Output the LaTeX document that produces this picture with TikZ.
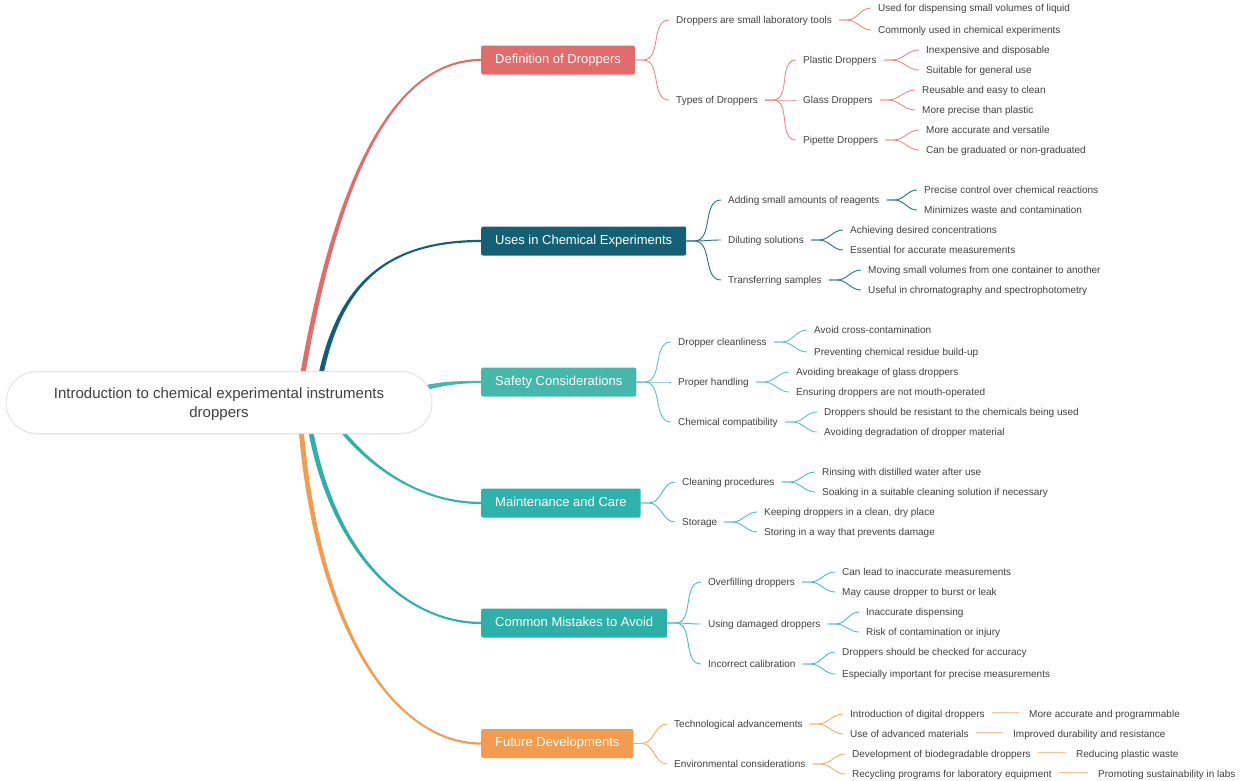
\documentclass[tikz,border=0pt]{standalone}
\usepackage{fontspec}
\setmainfont{Liberation Sans}
\usepackage{tikz}
\usetikzlibrary{calc,backgrounds,shadows}
\definecolor{cdef}{HTML}{E06C6C}
\definecolor{cuse}{HTML}{135F73}
\definecolor{csaf}{HTML}{45B8AB}
\definecolor{cmnt}{HTML}{2EB3AC}
\definecolor{cmis}{HTML}{2EB0A9}
\definecolor{cfut}{HTML}{F29C50}
\definecolor{ltext}{HTML}{404040}
\tikzset
{
    rootnode/.style = {draw=black!10, line width=1pt, fill=white, rounded corners=31pt, minimum width=426pt, minimum height=62pt, align=center, text=black!75, text depth=0pt, font=\fontsize{15}{19}\selectfont, drop shadow={opacity=0.08, shadow xshift=0pt, shadow yshift=-1pt}},
    mainnode/.style = {anchor=west, rounded corners=2pt, minimum height=29pt, inner xsep=14pt, text height=10pt, text depth=3.2pt, text=white, font=\fontsize{13}{15}\selectfont},
    leafnode/.style = {anchor=west, inner xsep=7pt, inner ysep=2pt, text height=8pt, text depth=0.5pt, text=ltext, font=\fontsize{10}{12}\selectfont},
    twig/.style     = {line width=0.9pt}
}
% tapered branch from the root to a main node
\newcommand{\limb}[6]{%
  \fill[#1] ($#2-#6$) .. controls ($#3-#6$) and ($#4+(0,-1.1)$) .. ($(#5.west)+(0,-1.1)$)
    -- ($(#5.west)+(0,1.1)$) .. controls ($#4+(0,1.1)$) and ($#3+#6$) .. ($#2+#6$) -- cycle;}

\begin{document}
\begin{tikzpicture}[x=1pt, y=-1pt]
    \useasboundingbox (0,0) rectangle (1240,780);

    \node [rootnode] (root) at (219,402.5) {Introduction to chemical experimental instruments\\droppers};

    % main topics
    \node [mainnode, fill=cdef] (def) at (481,60)    {Definition of Droppers};
    \node [mainnode, fill=cuse] (use) at (481,241)   {Uses in Chemical Experiments};
    \node [mainnode, fill=csaf] (saf) at (481,382)   {Safety Considerations};
    \node [mainnode, fill=cmnt] (mnt) at (481,503)   {Maintenance and Care};
    \node [mainnode, fill=cmis] (mis) at (481,623)   {Common Mistakes to Avoid};
    \node [mainnode, fill=cfut] (fut) at (481,743.5) {Future Developments};

    % definition
    \node [leafnode] (d1)   at (669,20)  {Droppers are small laboratory tools};
    \node [leafnode] (d2)   at (669,100) {Types of Droppers};
    \node [leafnode] (d11)  at (871,8)   {Used for dispensing small volumes of liquid};
    \node [leafnode] (d12)  at (871,30)  {Commonly used in chemical experiments};
    \node [leafnode] (d21)  at (796,60)  {Plastic Droppers};
    \node [leafnode] (d22)  at (796,100) {Glass Droppers};
    \node [leafnode] (d23)  at (796,140) {Pipette Droppers};
    \node [leafnode] (d211) at (919,50)  {Inexpensive and disposable};
    \node [leafnode] (d212) at (919,70)  {Suitable for general use};
    \node [leafnode] (d221) at (915,90)  {Reusable and easy to clean};
    \node [leafnode] (d222) at (915,110) {More precise than plastic};
    \node [leafnode] (d231) at (919,130) {More accurate and versatile};
    \node [leafnode] (d232) at (919,150) {Can be graduated or non-graduated};

    % uses
    \node [leafnode] (u1)  at (721,200) {Adding small amounts of reagents};
    \node [leafnode] (u2)  at (721,240) {Diluting solutions};
    \node [leafnode] (u3)  at (721,280) {Transferring samples};
    \node [leafnode] (u11) at (917,190) {Precise control over chemical reactions};
    \node [leafnode] (u12) at (917,210) {Minimizes waste and contamination};
    \node [leafnode] (u21) at (843,230) {Achieving desired concentrations};
    \node [leafnode] (u22) at (843,250) {Essential for accurate measurements};
    \node [leafnode] (u31) at (861,270) {Moving small volumes from one container to another};
    \node [leafnode] (u32) at (861,290) {Useful in chromatography and spectrophotometry};

    % safety
    \node [leafnode] (s1)  at (671,342) {Dropper cleanliness};
    \node [leafnode] (s2)  at (671,382) {Proper handling};
    \node [leafnode] (s3)  at (671,422) {Chemical compatibility};
    \node [leafnode] (s11) at (807,330) {Avoid cross-contamination};
    \node [leafnode] (s12) at (807,352) {Preventing chemical residue build-up};
    \node [leafnode] (s21) at (789,372) {Avoiding breakage of glass droppers};
    \node [leafnode] (s22) at (789,392) {Ensuring droppers are not mouth-operated};
    \node [leafnode] (s31) at (817,412) {Droppers should be resistant to the chemicals being used};
    \node [leafnode] (s32) at (817,432) {Avoiding degradation of dropper material};

    % maintenance
    \node [leafnode] (m1)  at (675,482) {Cleaning procedures};
    \node [leafnode] (m2)  at (675,522) {Storage};
    \node [leafnode] (m11) at (815,472) {Rinsing with distilled water after use};
    \node [leafnode] (m12) at (815,492) {Soaking in a suitable cleaning solution if necessary};
    \node [leafnode] (m21) at (757,512) {Keeping droppers in a clean, dry place};
    \node [leafnode] (m22) at (757,532) {Storing in a way that prevents damage};

    % mistakes
    \node [leafnode] (c1)  at (701,582) {Overfilling droppers};
    \node [leafnode] (c2)  at (701,624) {Using damaged droppers};
    \node [leafnode] (c3)  at (701,664) {Incorrect calibration};
    \node [leafnode] (c11) at (835,572) {Can lead to inaccurate measurements};
    \node [leafnode] (c12) at (835,592) {May cause dropper to burst or leak};
    \node [leafnode] (c21) at (859,612) {Inaccurate dispensing};
    \node [leafnode] (c22) at (859,632) {Risk of contamination or injury};
    \node [leafnode] (c31) at (835,652) {Droppers should be checked for accuracy};
    \node [leafnode] (c32) at (835,674) {Especially important for precise measurements};

    % future
    \node [leafnode] (f1)   at (667,724)  {Technological advancements};
    \node [leafnode] (f2)   at (667,764)  {Environmental considerations};
    \node [leafnode] (f11)  at (843,714)  {Introduction of digital droppers};
    \node [leafnode] (f12)  at (843,734)  {Use of advanced materials};
    \node [leafnode] (f21)  at (845,754)  {Development of biodegradable droppers};
    \node [leafnode] (f22)  at (845,774)  {Recycling programs for laboratory equipment};
    \node [leafnode] (f111) at (1022,714) {More accurate and programmable};
    \node [leafnode] (f121) at (1006,734) {Improved durability and resistance};
    \node [leafnode] (f211) at (1069,754) {Reducing plastic waste};
    \node [leafnode] (f221) at (1091,774) {Promoting sustainability in labs};

    % branches behind the root
    \begin{pgfonlayer}{background}
        \limb{cdef}{(300,390)}{(338,160)}{(400,60)}{def}{(2.5,0)}
        \limb{cuse}{(318,390)}{(335,290)}{(380,241)}{use}{(2.5,0)}
        \limb{csaf}{(420,389)}{(440,384)}{(455,382)}{saf}{(0,2.5)}
        \limb{cmnt}{(330,415)}{(365,466)}{(420,503)}{mnt}{(-2.5,0)}
        \limb{cmis}{(308,415)}{(330,560)}{(410,623)}{mis}{(-2.5,0)}
        \limb{cfut}{(300,415)}{(315,630)}{(395,743.5)}{fut}{(-2.5,0)}
    \end{pgfonlayer}

    % twigs
    \foreach \p/\c in {def/d1, def/d2, d1/d11, d1/d12, d2/d21, d2/d22, d2/d23, d21/d211, d21/d212, d22/d221, d22/d222, d23/d231, d23/d232}
        \draw [twig, cdef!80] (\p.east) -- ++(8,0) to[out=0, in=180] (\c.west);
    \foreach \p/\c in {use/u1, use/u2, use/u3, u1/u11, u1/u12, u2/u21, u2/u22, u3/u31, u3/u32}
        \draw [twig, cuse!90] (\p.east) -- ++(8,0) to[out=0, in=180] (\c.west);
    \foreach \p/\c in {saf/s1, saf/s2, saf/s3, s1/s11, s1/s12, s2/s21, s2/s22, s3/s31, s3/s32}
        \draw [twig, csaf!85] (\p.east) -- ++(8,0) to[out=0, in=180] (\c.west);
    \foreach \p/\c in {mnt/m1, mnt/m2, m1/m11, m1/m12, m2/m21, m2/m22}
        \draw [twig, cmnt!85] (\p.east) -- ++(8,0) to[out=0, in=180] (\c.west);
    \foreach \p/\c in {mis/c1, mis/c2, mis/c3, c1/c11, c1/c12, c2/c21, c2/c22, c3/c31, c3/c32}
        \draw [twig, cmis!85] (\p.east) -- ++(8,0) to[out=0, in=180] (\c.west);
    \foreach \p/\c in {fut/f1, fut/f2, f1/f11, f1/f12, f2/f21, f2/f22}
        \draw [twig, cfut!85] (\p.east) -- ++(8,0) to[out=0, in=180] (\c.west);
    \foreach \p/\c in {f11/f111, f12/f121, f21/f211, f22/f221}
        \draw [twig, line width=1.7pt, cfut!60, shorten >=3pt] ($(\p.east)+(0,-1.5)$) -- ($(\c.west)+(0,-1.5)$);
\end{tikzpicture}
\end{document}
